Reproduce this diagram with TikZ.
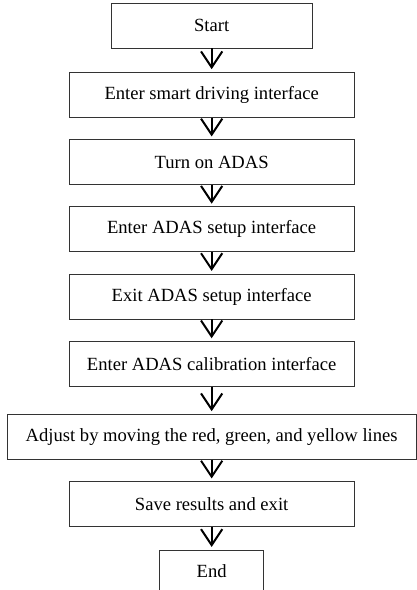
\documentclass[tikz,border=0pt]{standalone}
\usepackage{fontspec}
\setmainfont{Liberation Serif}
\usetikzlibrary{positioning,arrows.meta}

\begin{document}
\begin{tikzpicture}[shorten >=2pt,node distance=1.78cm,on grid,
        box/.style={draw=black!80,line width=0.6pt,minimum width=7.54cm,minimum height=1.19cm,font=\fontsize{14}{16}\selectfont},
        flow/.style={-{Straight Barb[length=12pt,width=16pt]},line width=1.5pt}]
        \useasboundingbox (0,0) rectangle (11.01,-15.61);
        \node[box,minimum width=5.32cm] (start) at (5.6,-0.675) {Start};
        \node[box] (smart) [below=1.83cm of start] {Enter smart driving interface};
        \node[box] (adas) [below=of smart] {Turn on ADAS};
        \node[box] (setup) [below=of adas] {Enter ADAS setup interface};
        \node[box] (exit) [below=of setup] {Exit ADAS setup interface};
        \node[box] (calib) [below=of exit] {Enter ADAS calibration interface};
        \node[box,minimum width=10.82cm] (adjust) [below=1.93cm of calib] {Adjust by moving the red, green, and yellow lines};
        \node[box] (save) [below=of adjust] {Save results and exit};
        \node[box,minimum width=2.75cm,minimum height=1.13cm] (end) [below=of save] {End};
             \path[flow]
        (start) edge (smart)
        (smart) edge (adas)
        (adas) edge (setup)
        (setup) edge (exit)
        (exit) edge (calib)
        (calib) edge (adjust)
        (adjust) edge (save)
        (save) edge (end);

    \end{tikzpicture}
\end{document}
